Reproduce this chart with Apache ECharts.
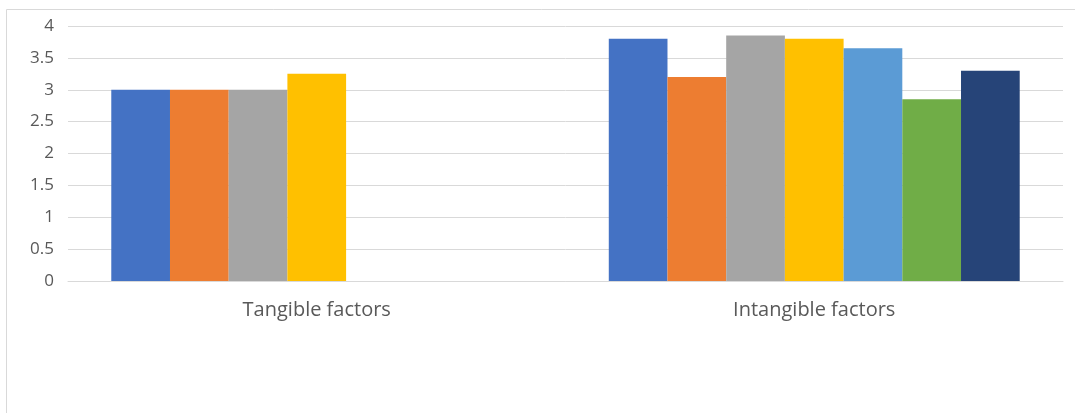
<!DOCTYPE html>
<html><head><meta charset="utf-8">
<script src="https://cdn.jsdelivr.net/npm/echarts@6/dist/echarts.min.js"></script>
<style>html,body{margin:0;padding:0;background:#fff}#c{width:1075px;height:413px}</style>
</head><body><div id="c"></div>
<script>
const categories = ['Tangible factors', 'Intangible factors'];
const s1 = [3, 3.8];
const s2 = [3, 3.2];
const s3 = [3, 3.85];
const s4 = [3.25, 3.8];
const s5 = [null, 3.65];
const s6 = [null, 2.85];
const s7 = [null, 3.3];
const seriesData = [s1, s2, s3, s4, s5, s6, s7];
const colors = ['#4472C4', '#ED7D31', '#A5A5A5', '#FFC000', '#5B9BD5', '#70AD47', '#264478'];
const yTicks = [0, 0.5, 1, 1.5, 2, 2.5, 3, 3.5, 4];

const chart = echarts.init(document.getElementById('c'));
chart.setOption({
  animation: false,
  color: colors,
  graphic: [{
    type: 'rect', shape: {x: 6.5, y: 9.5, width: 1200, height: 600},
    style: {fill: 'none', stroke: '#d9d9d9', lineWidth: 1}, silent: true
  }],
  grid: {left: 68, right: 12, top: 26, bottom: 132},
  xAxis: {
    type: 'category', data: categories,
    axisLine: {lineStyle: {color: '#d9d9d9', width: 1}},
    axisTick: {show: false},
    axisLabel: {color: '#595959', fontSize: 20, fontFamily: 'Open Sans', margin: 19}
  },
  yAxis: {
    type: 'value', min: yTicks[0], max: yTicks[yTicks.length - 1], interval: 0.5,
    axisLine: {show: false}, axisTick: {show: false},
    splitLine: {lineStyle: {color: '#d9d9d9', width: 1}},
    axisLabel: {color: '#595959', fontSize: 17, fontFamily: 'Open Sans', margin: 14}
  },
  series: seriesData.map((d, i) => ({
    type: 'bar', data: d, barGap: '0%', barCategoryGap: '17.4%',
    itemStyle: {color: colors[i]}
  }))
});
</script></body></html>
